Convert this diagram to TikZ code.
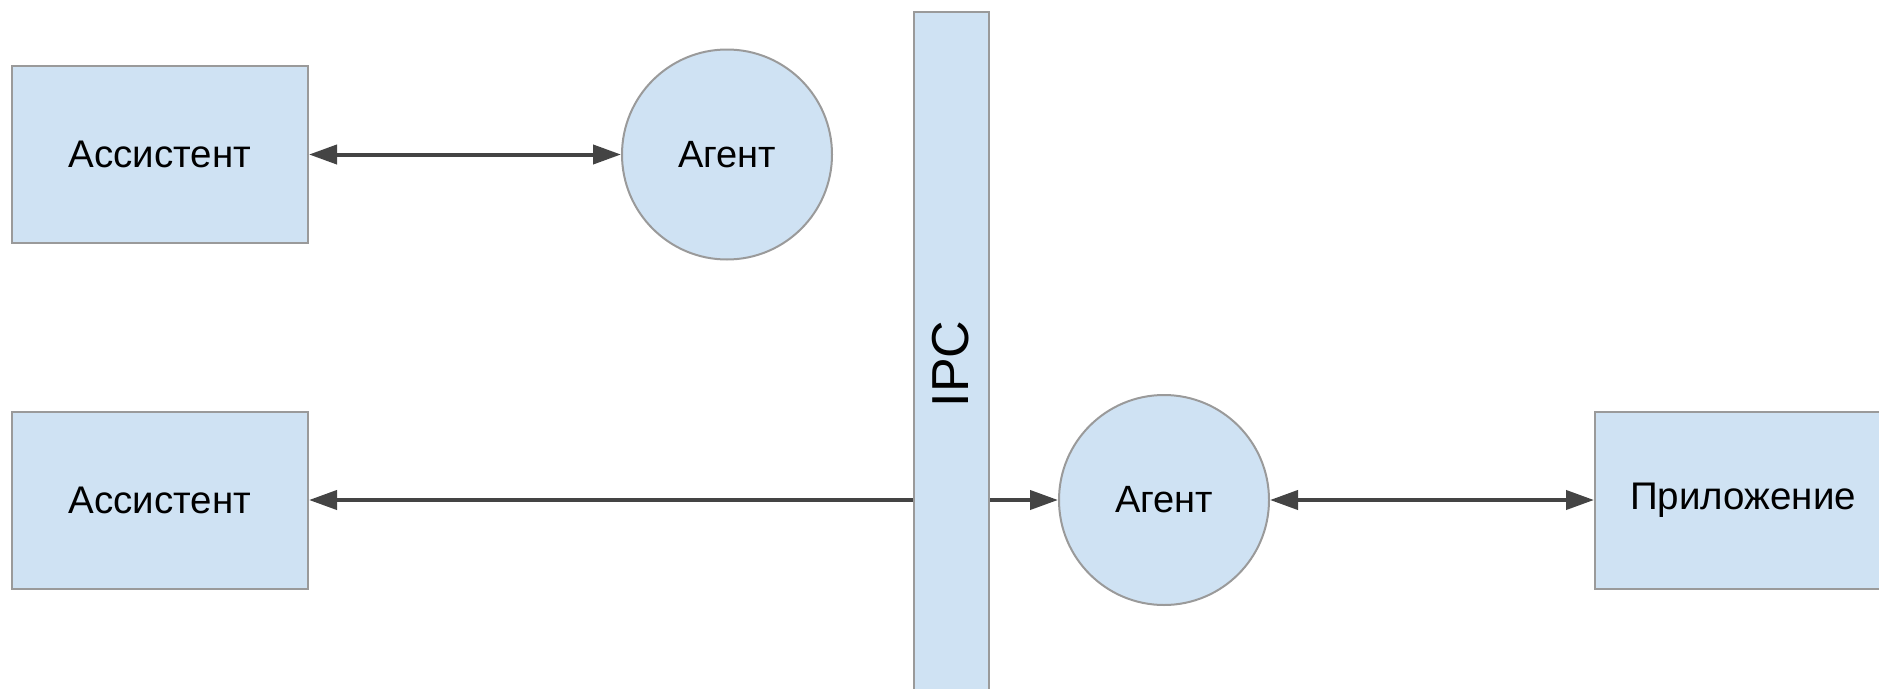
\documentclass[tikz,border=0pt]{standalone}
\usepackage{fontspec}
\setmainfont{Liberation Sans}
\usetikzlibrary{arrows.meta}
\definecolor{boxfill}{HTML}{CFE2F3}
\definecolor{boxline}{HTML}{9A9A9A}
\definecolor{linkcol}{HTML}{444444}
\tikzset{
  block/.style={draw=boxline, fill=boxfill, line width=2pt, rectangle,
    minimum width=296pt, minimum height=177pt, inner sep=0pt,
    font=\fontsize{38.5}{46}\selectfont},
  agentnode/.style={draw=boxline, fill=boxfill, line width=2pt, circle,
    minimum size=210pt, inner sep=0pt, font=\fontsize{38}{46}\selectfont},
  bus/.style={draw=boxline, fill=boxfill, line width=2pt, rectangle,
    minimum width=75pt, minimum height=700pt, inner sep=0pt},
  link/.style={draw=linkcol, line width=4pt,
    arrows={-Triangle[length=28pt,width=19pt]}},
  biglink/.style={link, arrows={Triangle[length=28pt,width=19pt]-Triangle[length=28pt,width=19pt]}}
}
\begin{document}
\begin{tikzpicture}[x=1pt,y=-1pt]
  \useasboundingbox (0,0) rectangle (1879,688);

  % IPC bus
  \node[bus] (ipc) at (951.5,362) {};
  \node[rotate=90, font=\fontsize{52}{60}\selectfont, inner sep=0pt] (ipclabel) at (951,364) {IPC};

  % upper row
  \node[block] (as1) at (160,154.5) {Ассистент};
  \node[agentnode] (ag1) at (727,154.5) {Агент};

  % lower row
  \node[block] (as2) at (160,500) {Ассистент};
  \node[agentnode] (ag2) at (1164,500) {Агент};
  \node[block] (app) at (1743,500) {Приложение};

  % connectors
  \draw[biglink] (as1.east) -- (ag1.west);
  \draw[link] (ipc.west |- as2.east) -- (as2.east);
  \draw[link] (ipc.east |- ag2.west) -- (ag2.west);
  \draw[biglink] (ag2.east) -- (app.west);
\end{tikzpicture}
\end{document}
